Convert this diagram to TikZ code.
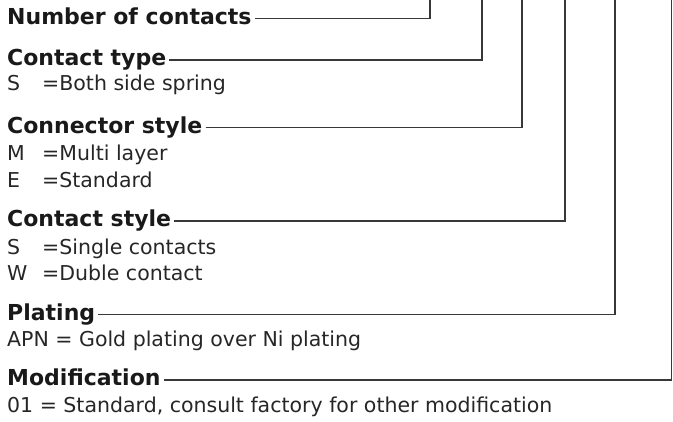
\documentclass[tikz,border=0pt]{standalone}
\usepackage{fontspec}
\setmainfont{DejaVu Sans}
\newcommand{\codebox}[1]{\makebox[35pt][l]{#1}}
\begin{document}
\begin{tikzpicture}[x=1pt,y=-1pt,
  head/.style={anchor=base west, inner sep=0pt, font=\fontsize{22}{22}\selectfont\bfseries, text=black!90},
  val/.style={anchor=base west, inner sep=0pt, font=\fontsize{20.5}{20.5}\selectfont, text=black!85},
  lead/.style={draw=black!78, line width=1.5pt}]
\useasboundingbox (0,0) rectangle (673,421);
% headings
\node[head] (h1) at (7,24)  {Number of contacts};
\node[head] (h2) at (7,65.5)  {Contact type};
\node[head] (h3) at (7,133) {Connector style};
\node[head] (h4) at (7,226.5) {Contact style};
\node[head] (h5) at (7,320) {Plating};
\node[head] (h6) at (7,385.5) {Modification};
% values
\node[val] (v21) at (7,90)  {\codebox{S}=Both side spring};
\node[val] (v31) at (7,160) {\codebox{M}=Multi layer};
\node[val] (v32) at (7,187) {\codebox{E}=Standard};
\node[val] (v41) at (7,254) {\codebox{S}=Single contacts};
\node[val] (v42) at (7,280) {\codebox{W}=Duble contact};
\node[val] (v51) at (7,346) {APN = Gold plating over Ni plating};
\node[val] (v61) at (7,412) {01 = Standard, consult factory for other modification};
% top ends
\coordinate (t1) at (430,0);
\coordinate (t2) at (482,0);
\coordinate (t3) at (522,0);
\coordinate (t4) at (565,0);
\coordinate (t5) at (615,0);
\coordinate (t6) at (671.5,0);
% leaders
\foreach \i in {1,...,6}{
  \draw[lead] ([shift={(3pt,5.5pt)}]h\i.base east) -| (t\i);
}
\end{tikzpicture}
\end{document}
